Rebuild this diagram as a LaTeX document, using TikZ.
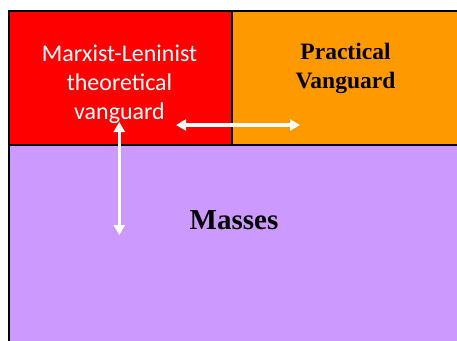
\documentclass[tikz,border=0pt]{standalone}
\usepackage{fontspec}
\setmainfont{Liberation Serif}
\newfontfamily\carlito{Carlito}
\usetikzlibrary{positioning,arrows.meta}
\usepackage{xcolor}
\definecolor{VanguardRed}{HTML}{FF0000}
\definecolor{VanguardOrange}{HTML}{FF9900}
\definecolor{MassLilac}{HTML}{CC99FF}

\begin{document}
\begin{tikzpicture}[
				x=1pt, y=1pt,
				block/.style={
					draw=black,
					line width=1.5pt,
					inner sep=0pt,
					anchor=north west
				},
				twoway/.style={
					{Triangle[length=10pt,width=11pt]}-{Triangle[length=10pt,width=11pt]},
					draw=white,
					line width=3.2pt
				}
				]
				
				\useasboundingbox (0,0) rectangle (457,-340);
				\clip (0,0) rectangle (457,-340);
				
				\node[
				block,
				fill=MassLilac,
				minimum width=460pt,
				minimum height=220pt
				] (masses) at (8,-144) {};
				
				\node[
				block,
				fill=VanguardRed,
				minimum width=223pt,
				minimum height=134pt
				] (theory) at (8,-10) {};
				
				\node[
				block,
				fill=VanguardOrange,
				minimum width=240pt,
				minimum height=134pt
				] (practice) at (231,-10) {};
				
				\node[
				font=\carlito\fontsize{24}{29}\selectfont,
				text=white,
				align=center
				] (theorylabel) at (119.5,-84) {Marxist-Leninist\\theoretical\\vanguard};
				
				\node[
				font=\bfseries\fontsize{23.5}{29}\selectfont,
				align=center
				] (practicelabel) at (345.5,-68) {Practical\\Vanguard};
				
				\node[
				font=\bfseries\fontsize{29}{34}\selectfont,
				anchor=base
				] (masseslabel) at (234,-229) {Masses};
				
				\coordinate (linkleft) at (176,-125);
				\coordinate (linkright) at (300,-125);
				\coordinate (linktop) at (119.3,-122);
				\coordinate (linkbottom) at (119.3,-235);
				
				\draw[twoway] (linkleft) -- (linkright);
				\draw[twoway] (linktop) -- (linkbottom);
				
			\end{tikzpicture}
\end{document}
